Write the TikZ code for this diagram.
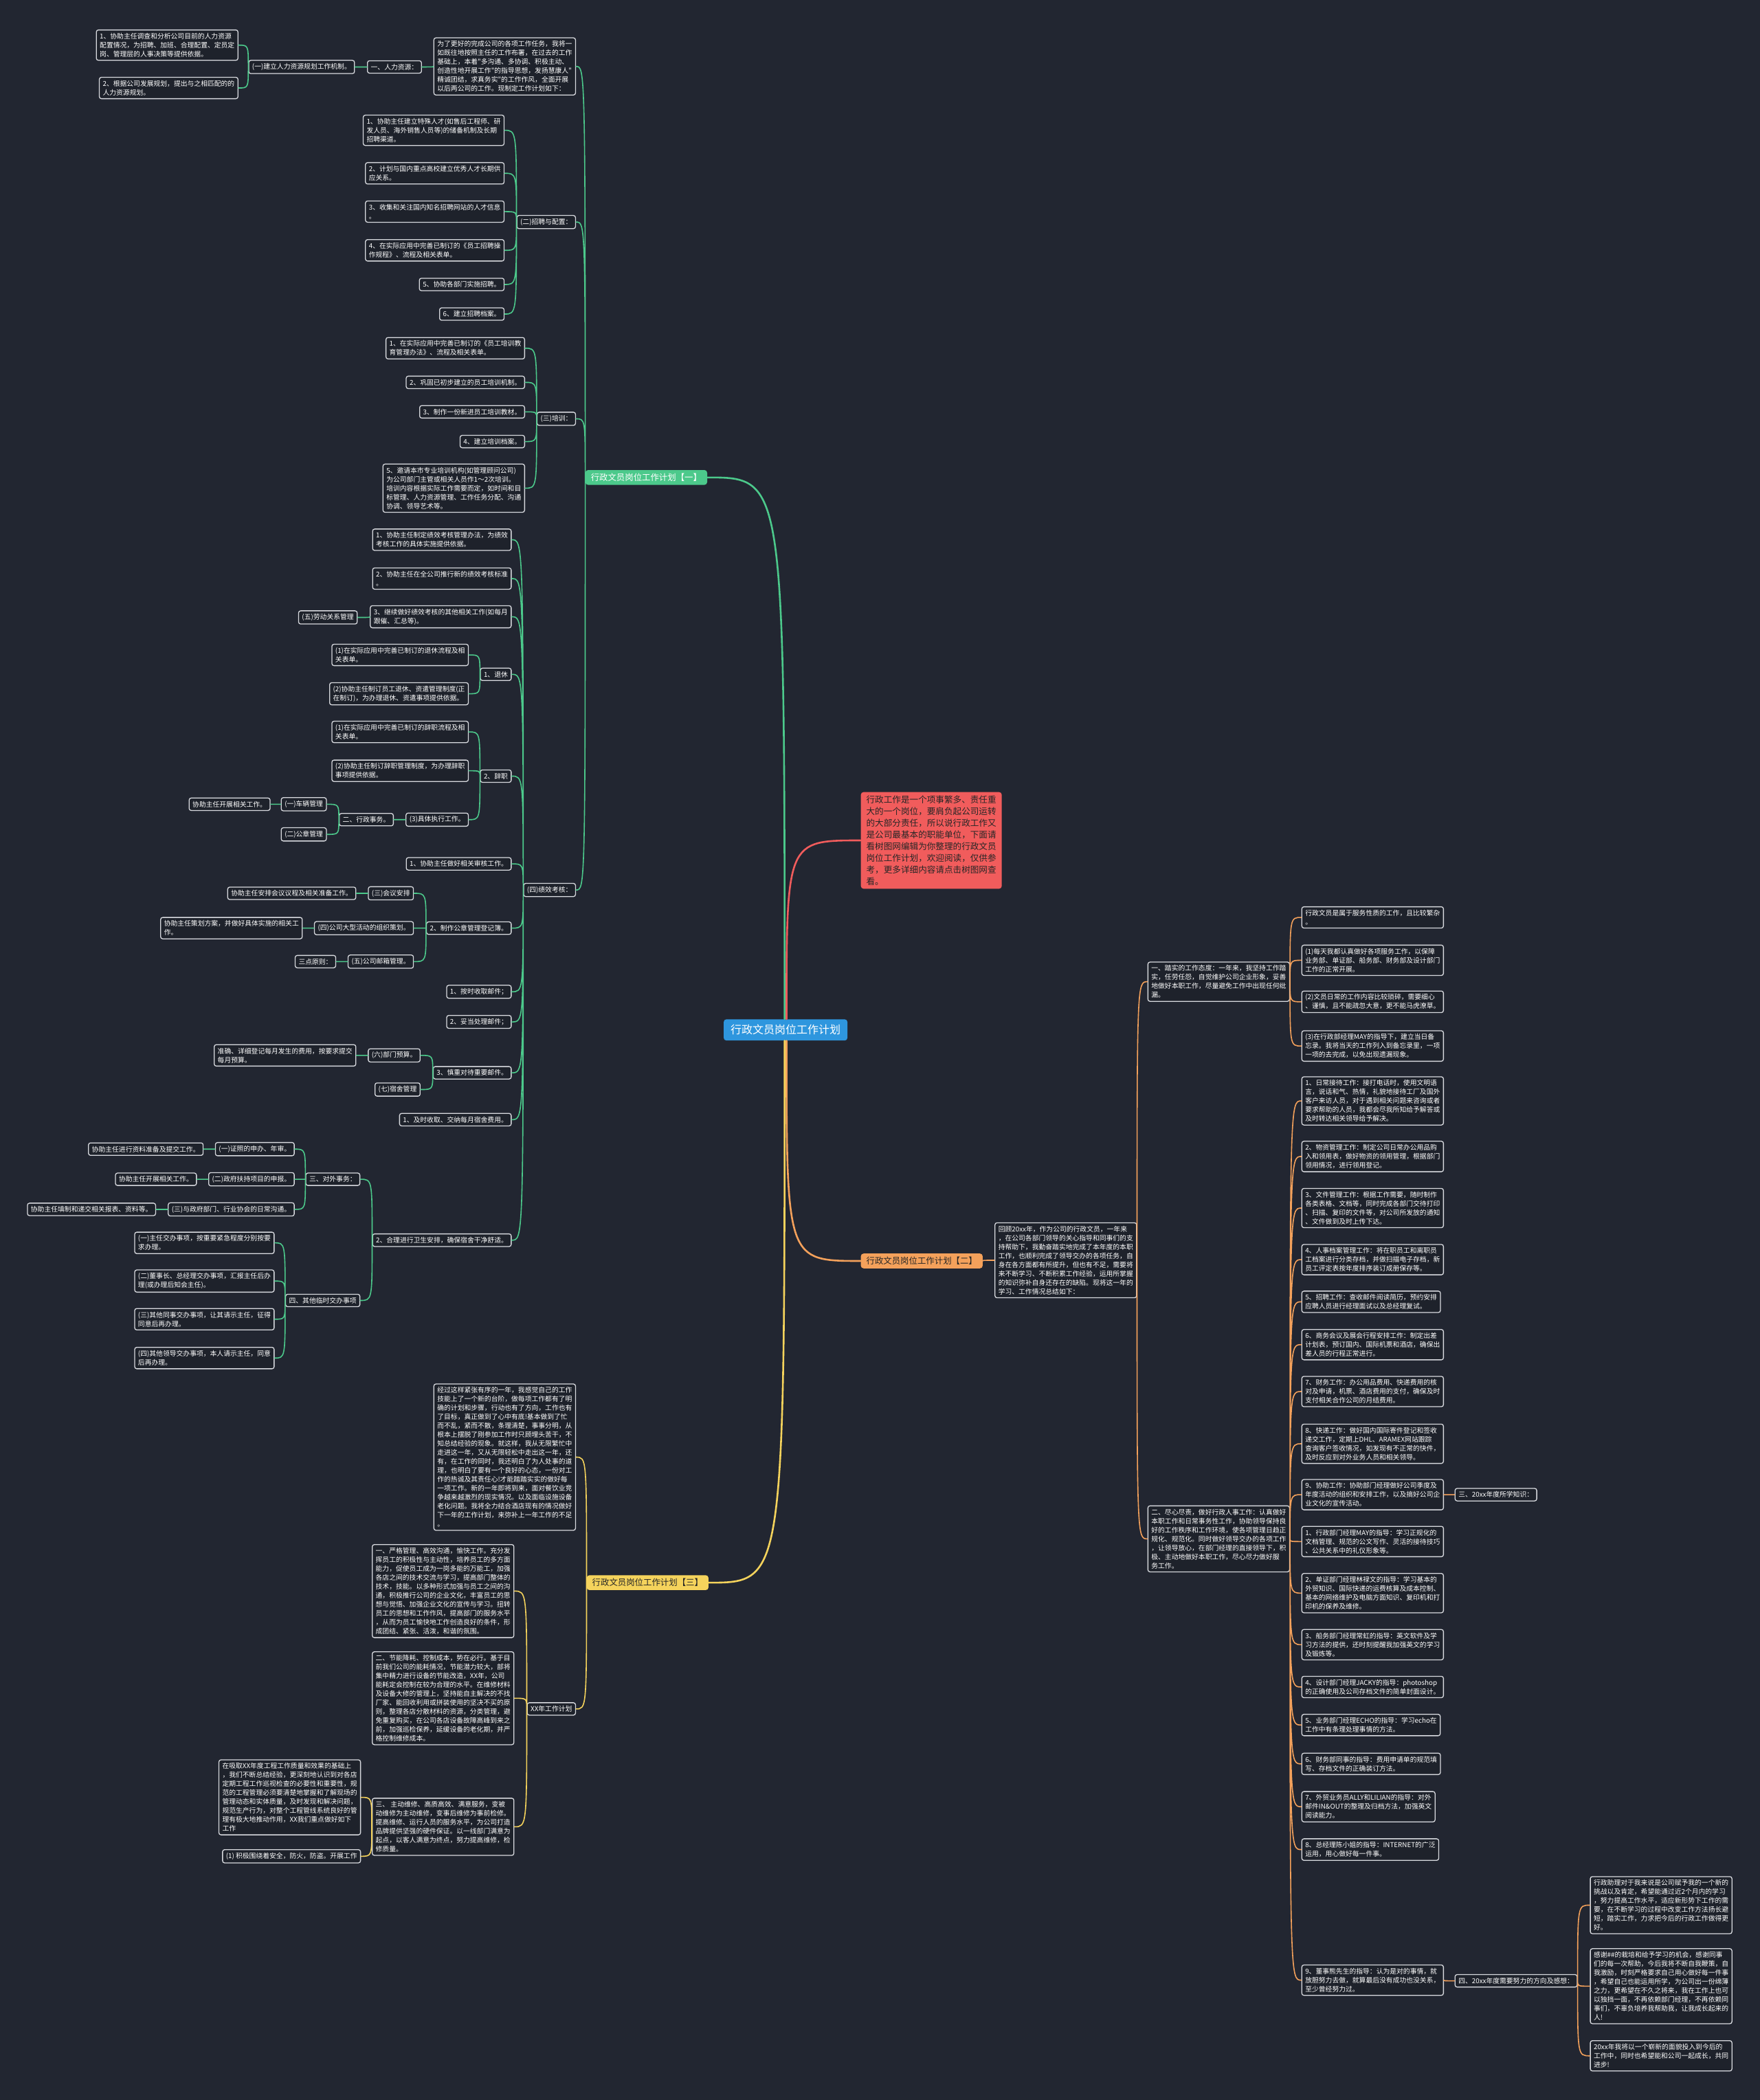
\documentclass[tikz,border=0pt]{standalone}
\usepackage{fontspec}
\usepackage{xcolor}
\usepackage{tikz}
\usetikzlibrary{positioning}
\newfontfamily\cjk{Noto Sans CJK SC}

\definecolor{bgc}{HTML}{222631}
\definecolor{boxc}{HTML}{1E222B}
\definecolor{rimc}{HTML}{D8DADF}
\definecolor{gre}{HTML}{4CC98B}
\definecolor{ora}{HTML}{F4A15B}
\definecolor{yel}{HTML}{F5D35C}
\definecolor{redc}{HTML}{F15C5C}
\definecolor{blu}{HTML}{2E96DE}

\tikzset{
  leaf/.style={draw=rimc, line width=1.3pt, rounded corners=3pt, fill=boxc,
    text=white, font=\cjk\fontsize{9.8}{13}\selectfont, align=left,
    inner xsep=5pt, inner ysep=4.5pt},
  hub/.style={rounded corners=4pt, text=black!85,
    font=\cjk\fontsize{12.4}{17}\selectfont, align=left,
    inner xsep=8pt, inner ysep=5pt},
  root/.style={rounded corners=4pt, fill=blu, text=white,
    font=\cjk\fontsize{16}{20}\selectfont, inner xsep=10pt, inner ysep=8pt},
  lk/.style={line width=1.6pt, line cap=round,
    to path={.. controls (\tikztostart |- \tikztotarget) .. (\tikztotarget)}},
}

\begin{document}
\begin{tikzpicture}[x=1.9483pt, y=-1.9483pt]
\fill[bgc] (0,0) rectangle (1314,1568);
\useasboundingbox (0,0) rectangle (1314,1568);

% centro
\node[root] (ctr) at (586.5,769) {行政文员岗位工作计划};
\node[hub, fill=redc, anchor=west, font=\cjk\fontsize{12.6}{17}\selectfont] (intro) at (642.6,627.5)
  {行政工作是一个项事繁多、责任重\\大的一个岗位，要肩负起公司运转\\的大部分责任，所以说行政工作又\\是公司最基本的职能单位，下面请\\看树图网编辑为你整理的行政文员\\岗位工作计划，欢迎阅读，仅供参\\考，更多详细内容请点击树图网查\\看。};

% ramo 1
\node[hub, fill=gre, text=white] (plan1) at (482.5,356.5) {行政文员岗位工作计划【一】};
\node[leaf, anchor=east] (pre1) at (430,49.6) {为了更好的完成公司的各项工作任务，我将一\\如既往地按照主任的工作布署，在过去的工作\\基础上，本着"多沟通、多协调、积极主动、\\创造性地开展工作"的指导思想，发扬慧康人"\\精诚团结，求真务实"的工作作风，全面开展\\以后两公司的工作。现制定工作计划如下：};
\node[leaf, anchor=east] (hr) at (315,50) {一、人力资源：};
\node[leaf, anchor=east] (hrplan) at (265,50) {(一)建立人力资源规划工作机制。};
\node[leaf, anchor=east] (hrA) at (178,33.7) {1、协助主任调查和分析公司目前的人力资源\\配置情况，为招聘、加班、合理配置、定员定\\岗、管理层的人事决策等提供依据。};
\node[leaf, anchor=east] (hrB) at (178,65.7) {2、根据公司发展规划，提出与之相匹配的的\\人力资源规划。};

\node[leaf, anchor=east] (rec) at (430,165.8) {(二)招聘与配置：};
\node[leaf, anchor=east] (rec1) at (376.7,97.3) {1、协助主任建立特殊人才(如售后工程师、研\\发人员、海外销售人员等)的储备机制及长期\\招聘渠道。};
\node[leaf, anchor=east] (rec2) at (376.7,129.4) {2、计划与国内重点高校建立优秀人才长期供\\应关系。};
\node[leaf, anchor=east] (rec3) at (376.7,158) {3、收集和关注国内知名招聘网站的人才信息\\。};
\node[leaf, anchor=east] (rec4) at (376.7,186.9) {4、在实际应用中完善已制订的《员工招聘操\\作规程》、流程及相关表单。};
\node[leaf, anchor=east] (rec5) at (376.7,212.4) {5、协助各部门实施招聘。};
\node[leaf, anchor=east] (rec6) at (376.7,234.5) {6、建立招聘档案。};

\node[leaf, anchor=east] (trn) at (430,312.7) {(三)培训：};
\node[leaf, anchor=east] (trn1) at (392,260) {1、在实际应用中完善已制订的《员工培训教\\育管理办法》、流程及相关表单。};
\node[leaf, anchor=east] (trn2) at (392,285.5) {2、巩固已初步建立的员工培训机制。};
\node[leaf, anchor=east] (trn3) at (392,307.5) {3、制作一份新进员工培训教材。};
\node[leaf, anchor=east] (trn4) at (392,329.7) {4、建立培训档案。};
\node[leaf, anchor=east] (trn5) at (392,364.5) {5、邀请本市专业培训机构(如管理顾问公司)\\为公司部门主管或相关人员作1～2次培训。\\培训内容根据实际工作需要而定，如时间和目\\标管理、人力资源管理、工作任务分配、沟通\\协调、领导艺术等。};

\node[leaf, anchor=east] (perf) at (430,664.5) {(四)绩效考核：};
\node[leaf, anchor=east] (perf1) at (382,403) {1、协助主任制定绩效考核管理办法，为绩效\\考核工作的具体实施提供依据。};
\node[leaf, anchor=east] (perf2) at (382,432) {2、协助主任在全公司推行新的绩效考核标准\\。};
\node[leaf, anchor=east] (perf3) at (382,460.5) {3、继续做好绩效考核的其他相关工作(如每月\\跟催、汇总等)。};
\node[leaf, anchor=east] (lab) at (267,461) {(五)劳动关系管理};
\node[leaf, anchor=east] (ret) at (382,503.5) {1、退休};
\node[leaf, anchor=east] (ret1) at (350,489) {(1)在实际应用中完善已制订的退休流程及相\\关表单。};
\node[leaf, anchor=east] (ret2) at (350,518) {(2)协助主任制订员工退休、资遣管理制度(正\\在制订)，为办理退休、资遣事项提供依据。};
\node[leaf, anchor=east] (res) at (382,579.5) {2、辞职};
\node[leaf, anchor=east] (res1) at (350,546.5) {(1)在实际应用中完善已制订的辞职流程及相\\关表单。};
\node[leaf, anchor=east] (res2) at (350,575.5) {(2)协助主任制订辞职管理制度，为办理辞职\\事项提供依据。};
\node[leaf, anchor=east] (res3) at (350,612) {(3)具体执行工作。};
\node[leaf, anchor=east] (adm) at (294,612) {二、行政事务。};
\node[leaf, anchor=east] (car) at (244,600.5) {(一)车辆管理};
\node[leaf, anchor=east] (carA) at (202,600.5) {协助主任开展相关工作。};
\node[leaf, anchor=east] (seal) at (244,623) {(二)公章管理};
\node[leaf, anchor=east] (aud) at (382,645) {1、协助主任做好相关审核工作。};
\node[leaf, anchor=east] (book) at (382,693) {2、制作公章管理登记簿。};
\node[leaf, anchor=east] (meet) at (309,667) {(三)会议安排};
\node[leaf, anchor=east] (meetA) at (266,667) {协助主任安排会议议程及相关准备工作。};
\node[leaf, anchor=east] (event) at (309,693) {(四)公司大型活动的组织策划。};
\node[leaf, anchor=east] (eventA) at (226,693) {协助主任策划方案，并做好具体实施的相关工\\作。};
\node[leaf, anchor=east] (mbox) at (309,718) {(五)公司邮箱管理。};
\node[leaf, anchor=east] (rule) at (251,718) {三点原则：};
\node[leaf, anchor=east] (mail1) at (382,740.5) {1、按时收取邮件；};
\node[leaf, anchor=east] (mail2) at (382,763) {2、妥当处理邮件；};
\node[leaf, anchor=east] (mail3) at (382,801) {3、慎重对待重要邮件。};
\node[leaf, anchor=east] (budget) at (314,788) {(六)部门预算。};
\node[leaf, anchor=east] (budgetA) at (266,788) {准确、详细登记每月发生的费用，按要求提交\\每月预算。};
\node[leaf, anchor=east] (dorm) at (314,813.5) {(七)宿舍管理};
\node[leaf, anchor=east] (fee) at (382,836) {1、及时收取、交纳每月宿舍费用。};
\node[leaf, anchor=east] (clean) at (382,926) {2、合理进行卫生安排，确保宿舍干净舒适。};
\node[leaf, anchor=east] (ext) at (269,880.5) {三、对外事务：};
\node[leaf, anchor=east] (ext1) at (220,858) {(一)证照的申办、年审。};
\node[leaf, anchor=east] (ext1A) at (152,858) {协助主任进行资料准备及提交工作。};
\node[leaf, anchor=east] (ext2) at (220,880.5) {(二)政府扶持项目的申报。};
\node[leaf, anchor=east] (ext2A) at (147,880.5) {协助主任开展相关工作。};
\node[leaf, anchor=east] (ext3) at (220,903) {(三)与政府部门、行业协会的日常沟通。};
\node[leaf, anchor=east] (ext3A) at (116.5,903) {协助主任填制和递交相关报表、资料等。};
\node[leaf, anchor=east] (misc) at (269,971) {四、其他临时交办事项};
\node[leaf, anchor=east] (misc1) at (205,928) {(一)主任交办事项，按重要紧急程度分别按要\\求办理。};
\node[leaf, anchor=east] (misc2) at (205,956.5) {(二)董事长、总经理交办事项，汇报主任后办\\理(或办理后知会主任)。};
\node[leaf, anchor=east] (misc3) at (205,985) {(三)其他同事交办事项，让其请示主任，征得\\同意后再办理。};
\node[leaf, anchor=east] (misc4) at (205,1014) {(四)其他领导交办事项，本人请示主任，同意\\后再办理。};

% ramo 3
\node[hub, fill=yel] (plan3) at (483.5,1181.7) {行政文员岗位工作计划【三】};
\node[leaf, anchor=east] (pre3) at (430,1088) {经过这样紧张有序的一年，我感觉自己的工作\\技能上了一个新的台阶，做每项工作都有了明\\确的计划和步骤，行动也有了方向，工作也有\\了目标，真正做到了心中有底!基本做到了忙\\而不乱，紧而不散，条理清楚，事事分明，从\\根本上摆脱了刚参加工作时只顾埋头苦干，不\\知总结经验的现象。就这样，我从无限繁忙中\\走进这一年，又从无限轻松中走出这一年，还\\有，在工作的同时，我还明白了为人处事的道\\理，也明白了要有一个良好的心态，一份对工\\作的热诚及其责任心!才能踏踏实实的做好每\\一项工作。新的一年即将到来，面对餐饮业竞\\争越来越激烈的现实情况。以及面临设施设备\\老化问题。我将全力结合酒店现有的情况做好\\下一年的工作计划，来弥补上一年工作的不足\\。};
\node[leaf, anchor=east] (year) at (430,1276) {XX年工作计划};
\node[leaf, anchor=east] (yr1) at (384,1188) {一、严格管理、高效沟通，愉快工作。充分发\\挥员工的积极性与主动性，培养员工的多方面\\能力，促使员工成为一岗多能的万能工，加强\\各店之间的技术交流与学习，提高部门整体的\\技术，技能。以多种形式加强与员工之间的沟\\通，积极推行公司的企业文化，丰富员工的思\\想与觉悟、加强企业文化的宣传与学习。扭转\\员工的思想和工作作风，提高部门的服务水平\\，从而为员工愉快地工作创造良好的条件，形\\成团结、紧张、活泼，和谐的氛围。};
\node[leaf, anchor=east] (yr2) at (384,1268) {二、节能降耗、控制成本，势在必行。基于目\\前我们公司的能耗情况，节能潜力较大，部将\\集中精力进行设备的节能改造，XX年，公司\\能耗定会控制在较为合理的水平。在维修材料\\及设备大修的管理上，坚持能自主解决的不找\\厂家、能回收利用或拼装使用的坚决不买的原\\则，整理各店分散材料的资源，分类管理，避\\免重复购买，在公司各店设备故障高峰到来之\\前，加强巡检保养，延缓设备的老化期，并严\\格控制维修成本。};
\node[leaf, anchor=east] (yr3) at (384,1364) {三、 主动维修、高质高效、满意服务，变被\\动维修为主动维修，变事后维修为事前检修。\\提高维修、运行人员的服务水平，为公司打造\\品牌提供坚强的硬件保证。以一线部门满意为\\起点，以客人满意为终点，努力提高维修，检\\修质量。};
\node[leaf, anchor=east] (yr3A) at (269.5,1342) {在吸取XX年度工程工作质量和效果的基础上\\，我们不断总结经验，更深刻地认识到对各店\\定期工程工作巡视检查的必要性和重要性，规\\范的工程管理必须要清楚地掌握和了解现场的\\管理动态和实体质量，及时发现和解决问题，\\规范生产行为，对整个工程管线系统良好的管\\理有极大地推动作用，XX我们重点做好如下\\工作};
\node[leaf, anchor=east] (yr3B) at (269.5,1386) {(1) 积极围绕着安全，防火，防盗。开展工作};

% ramo 2
\node[hub, fill=ora, anchor=west] (plan2) at (642.6,941.5) {行政文员岗位工作计划【二】};
\node[leaf, anchor=west] (pre2) at (742.5,941) {回顾20xx年，作为公司的行政文员，一年来\\，在公司各部门领导的关心指导和同事们的支\\持帮助下，我勤奋踏实地完成了本年度的本职\\工作，也顺利完成了领导交办的各项任务，自\\身在各方面都有所提升，但也有不足，需要将\\来不断学习、不断积累工作经验，运用所掌握\\的知识弥补自身还存在的缺陷。现将这一年的\\学习、工作情况总结如下：};
\node[leaf, anchor=west] (att) at (856.7,733) {一、踏实的工作态度：一年来，我坚持工作踏\\实，任劳任怨，自觉维护公司企业形象，妥善\\地做好本职工作，尽量避免工作中出现任何纰\\漏。};
\node[leaf, anchor=west] (att1) at (971.6,685) {行政文员是属于服务性质的工作，且比较繁杂\\。};
\node[leaf, anchor=west] (att2) at (971.6,717) {(1)每天我都认真做好各项服务工作，以保障\\业务部、单证部、船务部、财务部及设计部门\\工作的正常开展。};
\node[leaf, anchor=west] (att3) at (971.6,748) {(2)文员日常的工作内容比较琐碎，需要细心\\、谨慎，且不能疏忽大意，更不能马虎潦草。};
\node[leaf, anchor=west] (att4) at (971.6,781) {(3)在行政部经理MAY的指导下，建立当日备\\忘录。我将当天的工作列入到备忘录里，一项\\一项的去完成，以免出现遗漏现象。};
\node[leaf, anchor=west] (duty) at (856.7,1149) {二、尽心尽责，做好行政人事工作：认真做好\\本职工作和日常事务性工作，协助领导保持良\\好的工作秩序和工作环境，使各项管理日趋正\\规化、规范化。同时做好领导交办的各项工作\\，让领导放心，在部门经理的直接领导下，积\\极、主动地做好本职工作，尽心尽力做好服\\务工作。};
\node[leaf, anchor=west] (job1) at (971.6,822) {1、日常接待工作：接打电话时，使用文明语\\言，说话和气、热情，礼貌地接待工厂及国外\\客户来访人员，对于遇到相关问题来咨询或者\\要求帮助的人员，我都会尽我所知给予解答或\\及时转达相关领导给予解决。};
\node[leaf, anchor=west] (job2) at (971.6,863.5) {2、物资管理工作：制定公司日常办公用品购\\入和领用表，做好物资的领用管理，根据部门\\领用情况，进行领用登记。};
\node[leaf, anchor=west] (job3) at (971.6,902) {3、文件管理工作：根据工作需要，随时制作\\各类表格、文档等，同时完成各部门交待打印\\、扫描、复印的文件等，对公司所发放的通知\\、文件做到及时上传下达。};
\node[leaf, anchor=west] (job4) at (971.6,940.5) {4、人事档案管理工作：将在职员工和离职员\\工档案进行分类存档，并做扫描电子存档，新\\员工评定表按年度排序装订成册保存等。};
\node[leaf, anchor=west] (job5) at (971.6,972) {5、招聘工作：查收邮件阅读简历，预约安排\\应聘人员进行经理面试以及总经理复试。};
\node[leaf, anchor=west] (job6) at (971.6,1004) {6、商务会议及展会行程安排工作：制定出差\\计划表，预订国内、国际机票和酒店，确保出\\差人员的行程正常进行。};
\node[leaf, anchor=west] (job7) at (971.6,1039) {7、财务工作：办公用品费用、快递费用的核\\对及申请，机票、酒店费用的支付，确保及时\\支付相关合作公司的月结费用。};
\node[leaf, anchor=west] (job8) at (971.6,1078) {8、快递工作：做好国内国际寄件登记和签收\\递交工作，定期上DHL、ARAMEX网站跟踪\\查询客户签收情况，如发现有不正常的快件，\\及时反应到对外业务人员和相关领导。};
\node[leaf, anchor=west] (job9) at (971.6,1116) {9、协助工作：协助部门经理做好公司季度及\\年度活动的组织和安排工作，以及搞好公司企\\业文化的宣传活动。};
\node[leaf, anchor=west] (learn) at (1086,1116) {三、20xx年度所学知识：};
\node[leaf, anchor=west] (tut1) at (971.6,1151) {1、行政部门经理MAY的指导：学习正规化的\\文档管理、规范的公文写作、灵活的接待技巧\\、公共关系中的礼仪形象等。};
\node[leaf, anchor=west] (tut2) at (971.6,1189.5) {2、单证部门经理林禄文的指导：学习基本的\\外贸知识、国际快递的运费核算及成本控制、\\基本的网络维护及电脑方面知识、复印机和打\\印机的保养及维修。};
\node[leaf, anchor=west] (tut3) at (971.6,1228) {3、船务部门经理常虹的指导：英文软件及学\\习方法的提供，还时刻提醒我加强英文的学习\\及锻炼等。};
\node[leaf, anchor=west] (tut4) at (971.6,1259.6) {4、设计部门经理JACKY的指导：photoshop\\的正确使用及公司存档文件的简单封面设计。};
\node[leaf, anchor=west] (tut5) at (971.6,1288) {5、业务部门经理ECHO的指导：学习echo在\\工作中有条理处理事情的方法。};
\node[leaf, anchor=west] (tut6) at (971.6,1317) {6、财务部同事的指导：费用申请单的规范填\\写、存档文件的正确装订方法。};
\node[leaf, anchor=west] (tut7) at (971.6,1349) {7、外贸业务员ALLY和LILIAN的指导：对外\\邮件IN\&OUT的整理及归档方法，加强英文\\阅读能力。};
\node[leaf, anchor=west] (tut8) at (971.6,1381) {8、总经理陈小姐的指导：INTERNET的广泛\\运用，用心做好每一件事。};
\node[leaf, anchor=west] (tut9) at (971.6,1478.5) {9、董事熊先生的指导：认为是对的事情，就\\放胆努力去做，就算最后没有成功也没关系，\\至少曾经努力过。};
\node[leaf, anchor=west] (aim) at (1086,1479) {四、20xx年度需要努力的方向及感想：};
\node[leaf, anchor=west] (aim1) at (1187,1422.5) {行政助理对于我来说是公司赋予我的一个新的\\挑战以及肯定，希望能通过近2个月内的学习\\，努力提高工作水平，适应新形势下工作的需\\要，在不断学习的过程中改变工作方法扬长避\\短，踏实工作，力求把今后的行政工作做得更\\好。};
\node[leaf, anchor=west] (aim2) at (1187,1483) {感谢\#\#的栽培和给予学习的机会，感谢同事\\们的每一次帮助，今后我将不断自我鞭策，自\\我激励，时刻严格要求自己用心做好每一件事\\，希望自己也能运用所学，为公司出一份绵薄\\之力，更希望在不久之将来，我在工作上也可\\以独挡一面，不再依赖部门经理，不再依赖同\\事们，不辜负培养我帮助我，让我成长起来的\\人!};
\node[leaf, anchor=west] (aim3) at (1187,1535) {20xx年我将以一个崭新的面貌投入到今后的\\工作中，同时也希望能和公司一起成长，共同\\进步!};

% ligacoes do centro
\draw[lk, gre, line width=2.6pt] (ctr.95) to (plan1.east);
\draw[lk, redc, line width=2.6pt] (ctr.85) to (intro.west);
\draw[lk, ora, line width=2.6pt] (ctr.275) to (plan2.west);
\draw[lk, yel, line width=2.6pt] (ctr.265) to (plan3.east);

% ligacoes ramo 1
\draw[lk, gre] (plan1.west) to (pre1.east) (plan1.west) to (rec.east)
  (plan1.west) to (trn.east) (plan1.west) to (perf.east);
\draw[lk, gre] (pre1.west) to (hr.east) (hr.west) to (hrplan.east)
  (hrplan.west) to (hrA.east) (hrplan.west) to (hrB.east);
\draw[lk, gre] (rec.west) to (rec1.east) (rec.west) to (rec2.east) (rec.west) to (rec3.east)
  (rec.west) to (rec4.east) (rec.west) to (rec5.east) (rec.west) to (rec6.east);
\draw[lk, gre] (trn.west) to (trn1.east) (trn.west) to (trn2.east) (trn.west) to (trn3.east)
  (trn.west) to (trn4.east) (trn.west) to (trn5.east);
\draw[lk, gre] (perf.west) to (perf1.east) (perf.west) to (perf2.east) (perf.west) to (perf3.east)
  (perf.west) to (ret.east) (perf.west) to (res.east) (perf.west) to (aud.east)
  (perf.west) to (book.east) (perf.west) to (mail1.east) (perf.west) to (mail2.east)
  (perf.west) to (mail3.east) (perf.west) to (fee.east) (perf.west) to (clean.east);
\draw[lk, gre] (perf3.west) to (lab.east)
  (ret.west) to (ret1.east) (ret.west) to (ret2.east)
  (res.west) to (res1.east) (res.west) to (res2.east) (res.west) to (res3.east)
  (res3.west) to (adm.east) (adm.west) to (car.east) (adm.west) to (seal.east)
  (car.west) to (carA.east);
\draw[lk, gre] (book.west) to (meet.east) (book.west) to (event.east) (book.west) to (mbox.east)
  (meet.west) to (meetA.east) (event.west) to (eventA.east) (mbox.west) to (rule.east);
\draw[lk, gre] (mail3.west) to (budget.east) (mail3.west) to (dorm.east)
  (budget.west) to (budgetA.east);
\draw[lk, gre] (clean.west) to (ext.east) (clean.west) to (misc.east)
  (ext.west) to (ext1.east) (ext.west) to (ext2.east) (ext.west) to (ext3.east)
  (ext1.west) to (ext1A.east) (ext2.west) to (ext2A.east) (ext3.west) to (ext3A.east)
  (misc.west) to (misc1.east) (misc.west) to (misc2.east)
  (misc.west) to (misc3.east) (misc.west) to (misc4.east);

% ligacoes ramo 3
\draw[lk, yel] (plan3.west) to (pre3.east) (plan3.west) to (year.east)
  (year.west) to (yr1.east) (year.west) to (yr2.east) (year.west) to (yr3.east)
  (yr3.west) to (yr3A.east) (yr3.west) to (yr3B.east);

% ligacoes ramo 2
\draw[lk, ora] (plan2.east) to (pre2.west) (pre2.east) to (att.west) (pre2.east) to (duty.west);
\draw[lk, ora] (att.east) to (att1.west) (att.east) to (att2.west)
  (att.east) to (att3.west) (att.east) to (att4.west);
\draw[lk, ora] (duty.east) to (job1.west) (duty.east) to (job2.west) (duty.east) to (job3.west)
  (duty.east) to (job4.west) (duty.east) to (job5.west) (duty.east) to (job6.west)
  (duty.east) to (job7.west) (duty.east) to (job8.west) (duty.east) to (job9.west);
\draw[lk, ora] (duty.east) to (tut1.west) (duty.east) to (tut2.west) (duty.east) to (tut3.west)
  (duty.east) to (tut4.west) (duty.east) to (tut5.west) (duty.east) to (tut6.west)
  (duty.east) to (tut7.west) (duty.east) to (tut8.west) (duty.east) to (tut9.west);
\draw[lk, ora] (job9.east) to (learn.west) (tut9.east) to (aim.west)
  (aim.east) to (aim1.west) (aim.east) to (aim2.west) (aim.east) to (aim3.west);
\end{tikzpicture}
\end{document}
